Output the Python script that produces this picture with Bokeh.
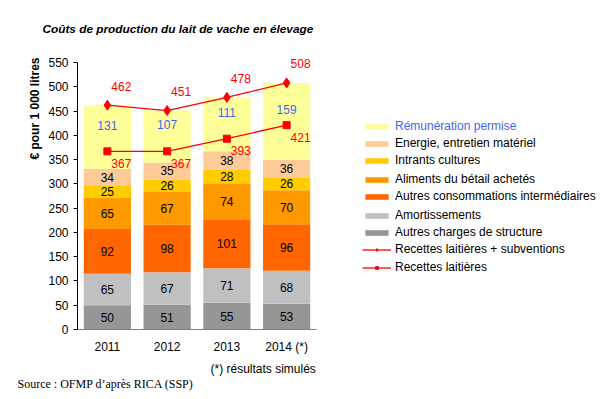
from bokeh.plotting import figure
from bokeh.models import (ColumnDataSource, Range1d, FixedTicker, Legend,
                          LegendItem, Title)
from bokeh.core.properties import value
from bokeh.embed import file_html
from bokeh.resources import INLINE

# ---------------- data ----------------
years = ["2011", "2012", "2013", "2014 (*)"]
autres_charges_structure = [50, 51, 55, 53]
amortissements = [65, 67, 71, 68]
autres_consommations = [92, 98, 101, 96]
aliments_betail = [65, 67, 74, 70]
intrants_cultures = [25, 26, 28, 26]
energie_entretien = [34, 35, 38, 36]
remuneration_permise = [131, 107, 111, 159]
recettes_subventions = [462, 451, 478, 508]
recettes_laitieres = [367, 367, 393, 421]
y_ticks = [0, 50, 100, 150, 200, 250, 300, 350, 400, 450, 500, 550]

series_names = ["autres_charges_structure", "amortissements", "autres_consommations",
                "aliments_betail", "intrants_cultures", "energie_entretien",
                "remuneration_permise"]
series_values = [autres_charges_structure, amortissements, autres_consommations,
                 aliments_betail, intrants_cultures, energie_entretien,
                 remuneration_permise]
series_labels = ["Autres charges de structure", "Amortissements",
                 "Autres consommations intermédiaires", "Aliments du bétail achetés",
                 "Intrants cultures", "Energie, entretien matériel", "Rémunération permise"]
series_colors = ["#969696", "#C0C0C0", "#FF6600", "#FF9900", "#FFCC00", "#FFCC99", "#FFFF99"]

FONT = value("Liberation Sans")
RED = "#FF0000"
BLUE = "#3F66F0"

xs = list(range(len(years)))
data = {"x": xs}
for n, v in zip(series_names, series_values):
    data[n] = v
source = ColumnDataSource(data)

# frame spans the legend area too; axes are limited with bounds
p = figure(width=616, height=399, x_range=Range1d(-0.5, 8.521),
           y_range=Range1d(0, 595.3), output_backend="svg", toolbar_location=None,
           min_border_left=77, min_border_right=0, min_border_top=40,
           min_border_bottom=70, title=None)
p.outline_line_color = None
p.xgrid.visible = False
p.ygrid.visible = False

bars = p.vbar_stack(series_names, x="x", width=0.79, color=series_colors,
                    line_color=None, source=source)

# segment value labels
bottoms = [0] * len(years)
for n, v in zip(series_names, series_values):
    centers = [b + x / 2 for b, x in zip(bottoms, v)]
    bottoms = [b + x for b, x in zip(bottoms, v)]
    is_rem = n == "remuneration_permise"
    p.text(x=xs, y=centers, text=[str(x) for x in v], text_align="center",
           text_baseline="middle", text_font=FONT, text_font_size="12px",
           text_color=BLUE if is_rem else "#000000", y_offset=-12 if is_rem else 0)

# lines
l1 = p.line(xs, recettes_subventions, line_color=RED, line_width=1.3)
s1 = p.scatter(xs, recettes_subventions, marker="diamond", size=10,
               fill_color=RED, line_color=RED)
l2 = p.line(xs, recettes_laitieres, line_color=RED, line_width=1.3)
s2 = p.scatter(xs, recettes_laitieres, marker="square", size=7,
               fill_color=RED, line_color=RED)

p.text(x=xs, y=recettes_subventions, text=[str(x) for x in recettes_subventions],
       x_offset=14, y_offset=-19, text_align="center", text_baseline="middle",
       text_font=FONT, text_font_size="12px", text_color=RED)
p.text(x=xs, y=recettes_laitieres, text=[str(x) for x in recettes_laitieres],
       x_offset=14, y_offset=12, text_align="center", text_baseline="middle",
       text_font=FONT, text_font_size="12px", text_color=RED)

# axes
p.yaxis.ticker = FixedTicker(ticks=y_ticks)
p.yaxis.bounds = (y_ticks[0], y_ticks[-1])
p.yaxis.axis_line_color = "#000000"
p.yaxis.major_tick_line_color = "#000000"
p.yaxis.major_tick_out = 4
p.yaxis.major_tick_in = 0
p.yaxis.minor_tick_line_color = None
p.yaxis.major_label_standoff = 5
p.xaxis.ticker = FixedTicker(ticks=xs)
p.xaxis.major_label_overrides = {i: y for i, y in zip(xs, years)}
p.xaxis.bounds = (-0.5, len(years) - 0.5)
p.xaxis.axis_line_color = "#808080"
p.xaxis.major_tick_line_color = None
p.xaxis.minor_tick_line_color = None
p.xaxis.major_tick_out = 0
p.xaxis.major_label_standoff = 10
for ax in (p.xaxis, p.yaxis):
    ax.major_label_text_font = "Liberation Sans"
    ax.major_label_text_font_size = "12px"
    ax.major_label_text_color = "#000000"

# legend, one entry per row (frame-relative positions)
legend_entries = [(series_labels[6], [bars[6]], BLUE),
                  (series_labels[5], [bars[5]], "#000000"),
                  (series_labels[4], [bars[4]], "#000000"),
                  (series_labels[3], [bars[3]], "#000000"),
                  (series_labels[2], [bars[2]], "#000000"),
                  (series_labels[1], [bars[1]], "#000000"),
                  (series_labels[0], [bars[0]], "#000000"),
                  ("Recettes laitières + subventions", [l1, s1], "#000000"),
                  ("Recettes laitières", [l2, s2], "#000000")]
row_centers = [203, 186, 169, 150, 133, 114, 97, 80, 62]
for (lab, rends, col), yc in zip(legend_entries, row_centers):
    lg = Legend(items=[LegendItem(label=lab, renderers=rends)], location=(285, yc - 7),
                padding=0, margin=0, border_line_color=None, background_fill_alpha=0,
                glyph_width=29, glyph_height=7, label_standoff=4, label_height=12,
                spacing=0, label_text_font="Liberation Sans", label_text_font_size="12px",
                label_text_color=col)
    p.add_layout(lg)

# texts
p.add_layout(Title(text="Coûts de production du lait de vache en élevage", align="left",
                   offset=-35, text_font="Liberation Sans", text_font_size="11.8px",
                   text_font_style="bold italic", text_color="#000000", standoff=10), "above")
p.add_layout(Title(text="€ pour 1 000 litres", align="right", offset=17,
                   text_font="Liberation Sans", text_font_size="12px",
                   text_font_style="bold", text_color="#000000", standoff=8), "left")
p.add_layout(Title(text="(*) résultats simulés", align="left", offset=133,
                   text_font="Liberation Sans", text_font_size="12px",
                   text_font_style="normal", text_color="#000000", standoff=6), "below")
p.add_layout(Title(text="Source : OFMP d’après RICA (SSP)", align="left", offset=-60,
                   text_font="Liberation Serif", text_font_size="12px",
                   text_font_style="normal", text_color="#000000", standoff=-7), "below")

open("out.html", "w").write(file_html(p, INLINE))
